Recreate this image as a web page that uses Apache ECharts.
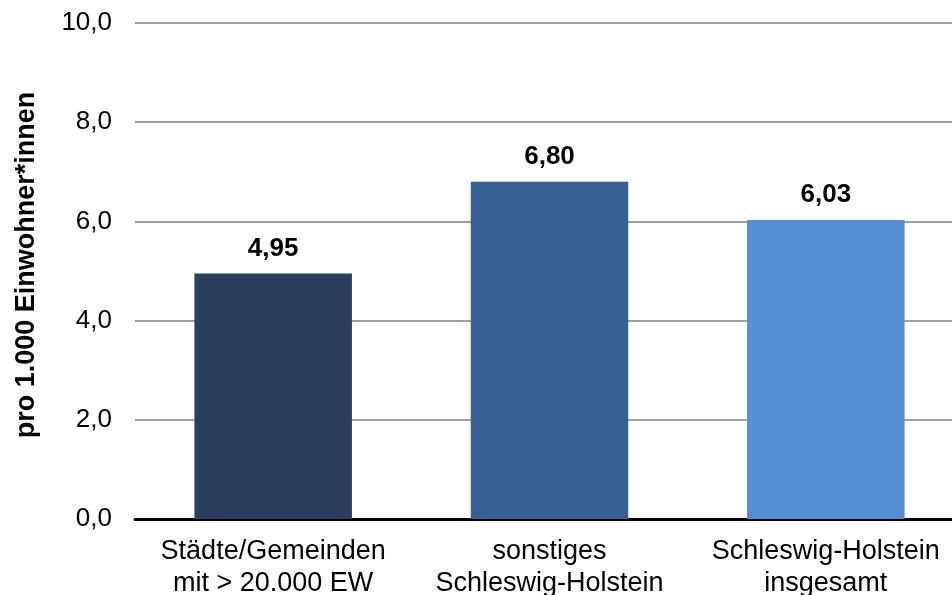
<!DOCTYPE html>
<html><head><meta charset="utf-8">
<script src="https://cdn.jsdelivr.net/npm/echarts@6/dist/echarts.min.js"></script>
<style>html,body{margin:0;padding:0;background:#fff;overflow:hidden}#c{width:964px;height:595px}</style>
</head><body><div id="c"></div>
<script>
const categories = ['Städte/Gemeinden\nmit > 20.000 EW', 'sonstiges\nSchleswig-Holstein', 'Schleswig-Holstein\ninsgesamt'];
const values = [4.95, 6.80, 6.03];
const barColors = ['#283F5E', '#366092', '#558ED5'];
const yTicks = [0, 2, 4, 6, 8, 10];
const yTitle = 'pro 1.000 Einwohner*innen';

const chart = echarts.init(document.getElementById('c'), null, {renderer: 'canvas'});
const font = 'Liberation Sans, Arial, sans-serif';
chart.setOption({
  animation: false,
  grid: {left: 135, right: 0, top: 23, bottom: 76, containLabel: false, outerBoundsMode: 'none'},
  xAxis: {
    type: 'category', data: categories,
    axisLine: {lineStyle: {color: '#000', width: 3}},
    axisTick: {show: false},
    axisLabel: {color: '#000', fontSize: 27, fontFamily: font, lineHeight: 31.5, margin: 17, interval: 0}
  },
  yAxis: {
    type: 'value', min: yTicks[0], max: yTicks[yTicks.length - 1], interval: 2,
    name: yTitle, nameLocation: 'middle', nameGap: 95, nameRotate: 90,
    nameTextStyle: {color: '#000', fontSize: 27, fontWeight: 'bold', fontFamily: font, padding: [0, 0, 0, 12]},
    axisLine: {show: false}, axisTick: {show: false},
    axisLabel: {color: '#000', fontSize: 26, fontFamily: font, margin: 23,
      formatter: v => v.toFixed(1).replace('.', ',')},
    splitLine: {lineStyle: {color: '#A0A0A0', width: 2}}
  },
  series: [{
    type: 'bar', barWidth: '57%',
    data: values.map((v, i) => ({value: v, itemStyle: {color: barColors[i]}})),
    label: {show: true, position: 'top', distance: 12, color: '#000', fontSize: 26,
      fontWeight: 'bold', fontFamily: font,
      formatter: p => p.value.toFixed(2).replace('.', ',')}
  }]
});
</script></body></html>
